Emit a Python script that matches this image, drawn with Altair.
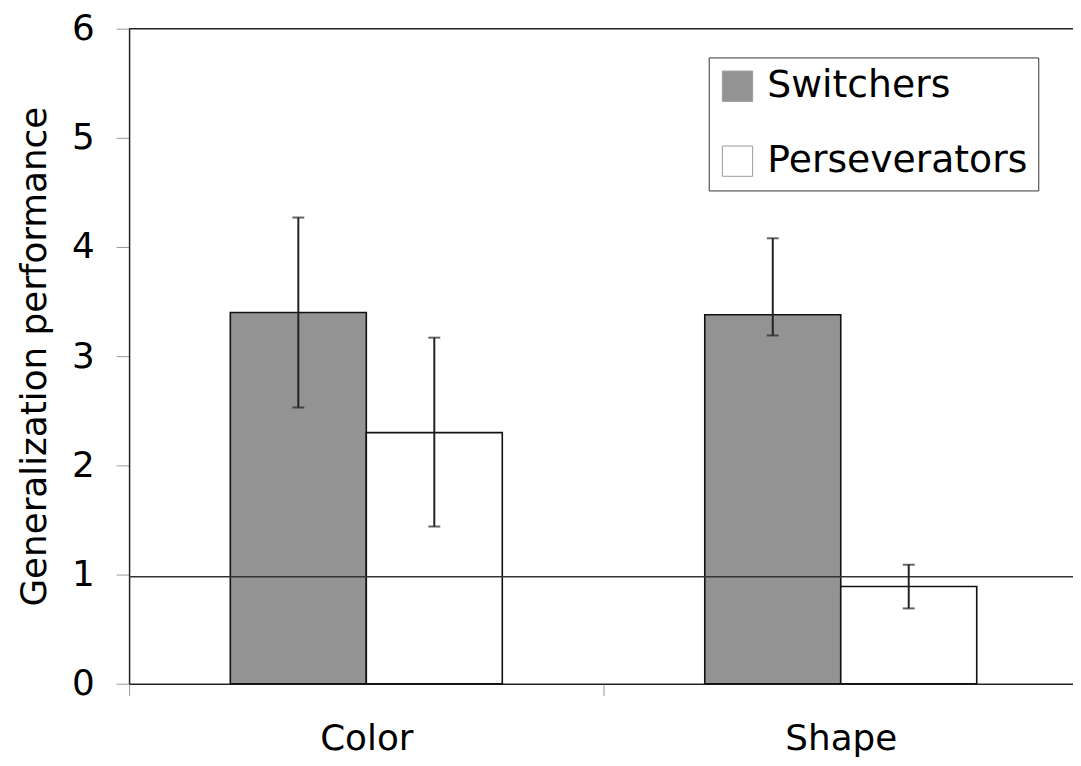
import altair as alt
import pandas as pd

# ---- data ----
categories = ["Color", "Color", "Shape", "Shape"]
groups = ["Switchers", "Perseverators", "Switchers", "Perseverators"]
means = [3.40, 2.30, 3.38, 0.89]
err_low = [2.53, 1.44, 3.19, 0.69]
err_high = [4.27, 3.17, 4.08, 1.09]
chance_level = [0.98]
y_ticks = [0, 1, 2, 3, 4, 5, 6]
group_order = ["Switchers", "Perseverators"]
group_colors = ["#939393", "#ffffff"]

df = pd.DataFrame({
    "task": categories,
    "group": groups,
    "mean": means,
    "lo": err_low,
    "hi": err_high,
})
chance_df = pd.DataFrame({"chance": chance_level})

FONT = "DejaVu Sans"

x_enc = alt.X(
    "task:N",
    title=None,
    sort=["Color", "Shape"],
    scale=alt.Scale(paddingInner=0, paddingOuter=0, range=[0, 956]),
    axis=alt.Axis(
        labelAngle=0,
        labelFontSize=36,
        labelFont=FONT,
        labelColor="black",
        labelPadding=26,
        tickBand="extent",
        tickSize=12,
        tickColor="#999999",
        tickWidth=1,
        domainColor="#222222",
        domainWidth=1.5,
        grid=False,
    ),
)
xoff_enc = alt.XOffset(
    "group:N",
    sort=group_order,
    scale=alt.Scale(paddingOuter=0.7445, paddingInner=0),
)
y_scale = alt.Scale(domain=[0, 6], nice=False)

base = alt.Chart(df)

bars = base.mark_bar(stroke="#111111", strokeWidth=1.6).encode(
    x=x_enc,
    xOffset=xoff_enc,
    y=alt.Y(
        "mean:Q",
        scale=y_scale,
        title="Generalization performance",
        axis=alt.Axis(
            values=y_ticks,
            format="d",
            labelFontSize=36,
            labelFont=FONT,
            labelColor="black",
            labelPadding=22,
            tickSize=13,
            tickColor="#999999",
            tickWidth=1,
            domainColor="#222222",
            domainWidth=1.5,
            grid=False,
            titleFontSize=36,
            titleFont=FONT,
            titleFontWeight="normal",
            titleColor="black",
            titlePadding=18,
        ),
    ),
    fill=alt.Fill(
        "group:N",
        scale=alt.Scale(domain=group_order, range=group_colors),
        legend=alt.Legend(
            title=None,
            orient="none",
            legendX=584,
            legendY=29,
            symbolType="square",
            symbolSize=930,
            symbolStrokeColor="#9a9a9a",
            symbolStrokeWidth=1,
            labelFontSize=38,
            labelFont=FONT,
            labelColor="black",
            labelOffset=11,
            labelLimit=500,
            rowPadding=37.5,
            padding=10,
            fillColor="white",
            strokeColor="#333333",
        ),
    ),
)

err_rule = base.mark_rule(color="#222222", strokeWidth=2).encode(
    x=x_enc, xOffset=xoff_enc, y=alt.Y("lo:Q", scale=y_scale), y2="hi:Q"
)
cap_hi = base.mark_tick(color="#222222", size=12, thickness=2).encode(
    x=x_enc, xOffset=xoff_enc, y=alt.Y("hi:Q", scale=y_scale)
)
cap_lo = base.mark_tick(color="#222222", size=12, thickness=2).encode(
    x=x_enc, xOffset=xoff_enc, y=alt.Y("lo:Q", scale=y_scale)
)

chance = alt.Chart(chance_df).mark_rule(color="#333333", strokeWidth=1.5).encode(
    y=alt.Y("chance:Q", scale=y_scale)
)

top_frame = alt.Chart(chance_df).mark_rule(color="#222222", strokeWidth=1.5).encode(
    y=alt.value(0)
)

chart = (
    alt.layer(bars, chance, err_rule, cap_hi, cap_lo, top_frame)
    .properties(
        width=951,
        height=660,
        autosize=alt.AutoSizeParams(type="none"),
        padding={"left": 122, "top": 18, "right": 0, "bottom": 72},
        background="white",
    )
    .configure_view(stroke=None)
)

chart.save("out.html", embed_options={"renderer": "svg", "actions": False})
